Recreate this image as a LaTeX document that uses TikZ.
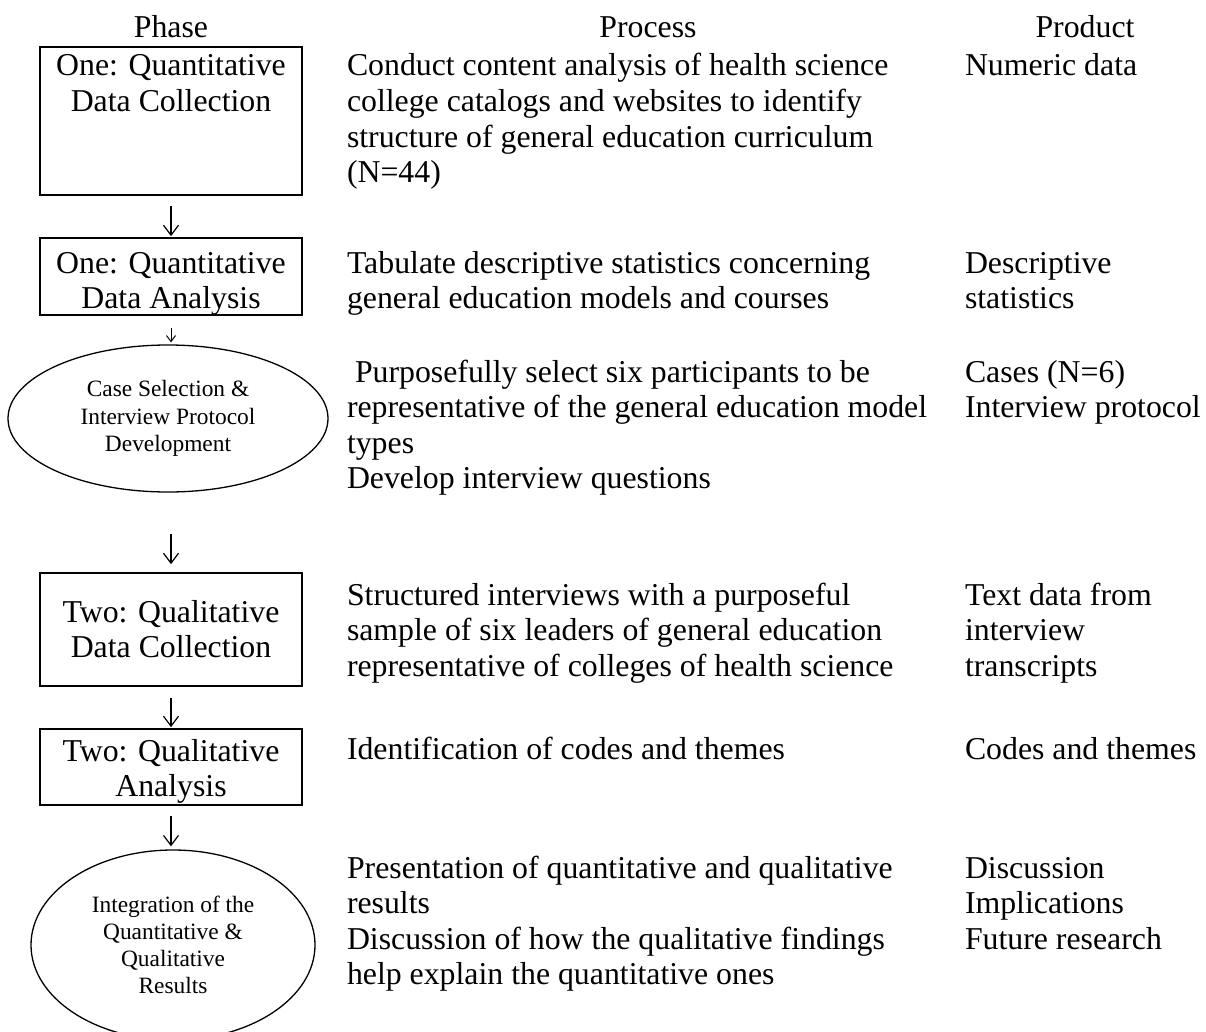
\documentclass[tikz,border=0pt]{standalone}
\usepackage{fontspec}
\setmainfont{Liberation Serif}
\usetikzlibrary{shapes.geometric,arrows.meta}
\newcommand{\mainfs}{\fontsize{31.8pt}{35.6pt}\selectfont}
\newcommand{\smallfs}{\fontsize{23.4pt}{27.2pt}\selectfont}
\newcommand{\lft}[1]{\parbox[t]{620pt}{\raggedright #1}}
\newcommand{\ctr}[1]{\parbox[t]{262pt}{\centering #1}}
\begin{document}
\begin{tikzpicture}[x=1pt,y=-1pt,
  txt/.style={inner sep=0pt, outer sep=0pt, font=\mainfs},
  phasebox/.style={draw, line width=1.6pt, inner sep=0pt, minimum width=262pt},
  oval/.style={draw, ellipse, line width=1.3pt, inner sep=0pt, align=center, font=\smallfs},
  arr/.style={line width=1.2pt, -{Straight Barb[length=10pt,width=15pt,line width=1.2pt]}},
  arrsmall/.style={line width=1pt, -{Straight Barb[length=6pt,width=9pt,line width=1pt]}}]
\useasboundingbox (0,0) rectangle (1206,1032);
% headers
\node[txt, anchor=base] (hphase) at (171,38) {Phase};
\node[txt, anchor=base] (hproc) at (648,38) {Process};
\node[txt, anchor=base] (hprod) at (1085,38) {Product};
% phase column
\node[phasebox, minimum height=148pt] (b1) at (171,121) {};
\node[txt, anchor=base] (b1t) at (171,76) {\ctr{One: Quantitative\\Data Collection}};
\node[phasebox, minimum height=77pt] (b2) at (171,276.5) {};
\node[txt, anchor=base] (b2t) at (171,273) {\ctr{One: Quantitative\\Data Analysis}};
\node[oval, minimum width=320pt, minimum height=147pt] (e1) at (168,418.5)
  {Case Selection \&\\Interview Protocol\\Development};
\node[phasebox, minimum height=113pt] (b3) at (171,629.5) {};
\node[txt, anchor=base] (b3t) at (171,622) {\ctr{Two: Qualitative\\Data Collection}};
\node[phasebox, minimum height=76pt] (b4) at (171,767) {};
\node[txt, anchor=base] (b4t) at (171,761) {\ctr{Two: Qualitative\\Analysis}};
\node[oval, minimum width=284pt, minimum height=190pt] (e2) at (173,945)
  {Integration of the\\Quantitative \&\\Qualitative\\Results};
% arrows
\draw[arr, shorten <=10pt, shorten >=1pt] (b1.south) -- (b2.north);
\draw[arrsmall, shorten <=12pt, shorten >=2pt] (b2.south) -- (b2.south |- e1.north);
\draw[arr, shorten <=41pt, shorten >=8pt] (b3.north |- e1.south) -- (b3.north);
\draw[arr, shorten <=11pt, shorten >=1pt] (b3.south) -- (b4.north);
\draw[arr, shorten <=10pt, shorten >=3pt] (b4.south) -- (b4.south |- e2.north);
% process column
\node[txt, anchor=base west] (p1) at (347,76) {\lft{Conduct content analysis of health science\\college catalogs and websites to identify\\structure of general education curriculum\\(N=44)}};
\node[txt, anchor=base west] (p2) at (347,273) {\lft{Tabulate descriptive statistics concerning\\general education models and courses}};
\node[txt, anchor=base west] (p3) at (347,382) {\lft{\hspace*{8pt}Purposefully select six participants to be\\representative of the general education model\\types\\Develop interview questions}};
\node[txt, anchor=base west] (p4) at (347,605) {\lft{Structured interviews with a purposeful\\sample of six leaders of general education\\representative of colleges of health science}};
\node[txt, anchor=base west] (p5) at (347,759) {\lft{Identification of codes and themes}};
\node[txt, anchor=base west] (p6) at (347,878) {\lft{Presentation of quantitative and qualitative\\results\\Discussion of how the qualitative findings\\help explain the quantitative ones}};
% product column
\node[txt, anchor=base west] (r1) at (965,76) {\lft{Numeric data}};
\node[txt, anchor=base west] (r2) at (965,273) {\lft{Descriptive\\statistics}};
\node[txt, anchor=base west] (r3) at (965,382) {\lft{Cases (N=6)\\Interview protocol}};
\node[txt, anchor=base west] (r4) at (965,605) {\lft{Text data from\\interview\\transcripts}};
\node[txt, anchor=base west] (r5) at (965,759) {\lft{Codes and themes}};
\node[txt, anchor=base west] (r6) at (965,878) {\lft{Discussion\\Implications\\Future research}};
\end{tikzpicture}
\end{document}
